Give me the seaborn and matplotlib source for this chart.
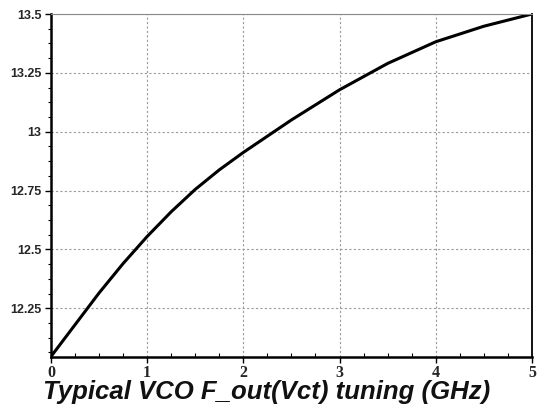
import pandas as pd
import matplotlib.pyplot as plt
import seaborn as sns
from matplotlib.ticker import MultipleLocator, FixedLocator

# 读图得到的调谐曲线数据
vct = [0, 0.25, 0.5, 0.75, 1, 1.25, 1.5, 1.75, 2, 2.5, 3, 3.5, 4, 4.5, 5]
f_out = [12.045, 12.18, 12.315, 12.44, 12.555, 12.66, 12.755, 12.838,
         12.912, 13.05, 13.178, 13.29, 13.382, 13.448, 13.5]
y_ticks = [12.25, 12.5, 12.75, 13, 13.25, 13.5]
y_tick_labels = ["12.25", "12.5", "12.75", "13", "13.25", "13.5"]
x_ticks = [0, 1, 2, 3, 4, 5]
title = "Typical VCO F_out(Vct) tuning (GHz)"

sns.set_theme(style="white")
plt.rcParams['font.family'] = ['Liberation Sans', 'DejaVu Sans']
plt.rcParams['font.weight'] = 'bold'

df = pd.DataFrame({"Vct": vct, "Fout": f_out})

fig = plt.figure(figsize=(5.4, 4.12), dpi=100)
ax = fig.add_axes([0.0944, 0.1335, 0.8906, 0.8325])

sns.lineplot(data=df, x="Vct", y="Fout", ax=ax, color="black", lw=2.2)

ax.set_xlim(0, 5)
ax.set_ylim(12.043, 13.5)
ax.xaxis.set_major_locator(FixedLocator(x_ticks))
ax.xaxis.set_minor_locator(MultipleLocator(0.25))
ax.set_yticks(y_ticks)
ax.set_yticklabels(y_tick_labels)
ax.yaxis.set_minor_locator(MultipleLocator(0.0625))

ax.grid(True, which="major", color="#9a9a9a", linestyle=(0, (2, 2)), lw=0.8)
ax.set_axisbelow(True)

for s in ["left", "bottom"]:
    ax.spines[s].set_color("black")
    ax.spines[s].set_linewidth(1.8)
ax.spines["right"].set_color("black")
ax.spines["right"].set_linewidth(1.3)
ax.spines["top"].set_color("#888888")
ax.spines["top"].set_linewidth(0.8)

ax.tick_params(axis="both", which="major", direction="out", length=4, width=1,
               color="black", pad=3, left=True, bottom=True)
ax.tick_params(axis="y", which="major", labelsize=9)
ax.tick_params(axis="x", which="major", labelsize=11.5, pad=2,
               labelfontfamily="Liberation Serif")
ax.tick_params(axis="x", which="minor", direction="in", length=3, width=0.8,
               color="black", bottom=True)
ax.tick_params(axis="y", which="minor", direction="out", length=2.5, width=0.8,
               color="black", left=True)

ax.set_xlabel("")
ax.set_ylabel("")

fig.text(0.4935, 0.048, title, ha="center", va="center", fontsize=18.5,
         fontweight="bold", fontstyle="italic", color="#111111")

plt.savefig("out.png", dpi=100)
